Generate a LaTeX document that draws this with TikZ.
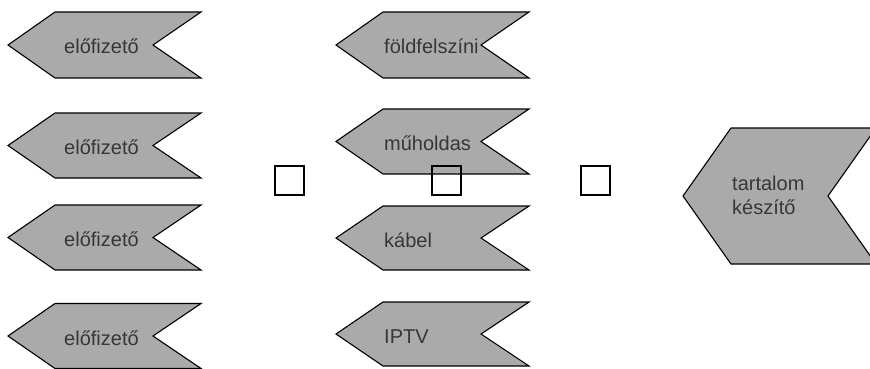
\documentclass[tikz,border=0pt]{standalone}
\usepackage{fontspec}
\setmainfont{Liberation Sans}
\definecolor{chevfill}{RGB}{170,170,170}
\definecolor{chevtext}{RGB}{55,55,55}
\tikzset{
  chev/.style={draw=black, fill=chevfill, line width=1.1pt, line join=miter},
  label/.style={anchor=base west, inner sep=0pt, text=chevtext, font=\fontsize{20}{24}\selectfont},
  box/.style={draw=black, line width=1.4pt, minimum size=29pt, inner sep=0pt}
}
\begin{document}
\begin{tikzpicture}[x=1pt, y=-1pt]
      \useasboundingbox (0,0) rectangle (870,369);

      % subscribers
      \draw[chev] (8,45) -- (55,12) -- (201,12) -- (153,45) -- (201,78) -- (55,78) -- cycle;
        \node[label] (sub1) at (64,54){előfizető};
      \draw[chev] (8,145.5) -- (55,113) -- (201,113) -- (153,145.5) -- (201,178) -- (55,178) -- cycle;
        \node[label] (sub2) at (64,154.5){előfizető};
      \draw[chev] (8,237.5) -- (55,205) -- (201,205) -- (153,237.5) -- (201,270) -- (55,270) -- cycle;
        \node[label] (sub3) at (64,246.5){előfizető};
      \draw[chev] (8,336) -- (55,303.5) -- (201,303.5) -- (153,336) -- (201,368.5) -- (55,368.5) -- cycle;
        \node[label] (sub4) at (64,345){előfizető};

      % distribution
      \draw[chev] (336,45) -- (383,12) -- (529,12) -- (481,45) -- (529,78) -- (383,78) -- cycle;
        \node[label] (terr) at (384,54){földfelszíni};
      \draw[chev] (336,141.5) -- (383,109) -- (529,109) -- (481,141.5) -- (529,174) -- (383,174) -- cycle;
        \node[label] (sat) at (384,150.5){műholdas};
      \draw[chev] (336,238) -- (383,206) -- (529,206) -- (481,238) -- (529,270) -- (383,270) -- cycle;
        \node[label] (cable) at (384,247){kábel};
      \draw[chev] (336,334) -- (383,302) -- (529,302) -- (481,334) -- (529,366) -- (383,366) -- cycle;
        \node[label] (iptv) at (384,343){IPTV};

      % content
      \draw[chev] (683,196) -- (731,128) -- (876,128) -- (828,196) -- (876,264) -- (731,264) -- cycle;
        \node[label, anchor=west, align=left] (content) at (732,195){tartalom\\készítő};

      \node[box] (sq1) at (289.5,180.5){};
      \node[box] (sq2) at (446.5,180.5){};
      \node[box] (sq3) at (595.5,180.5){};

\end{tikzpicture}
\end{document}
